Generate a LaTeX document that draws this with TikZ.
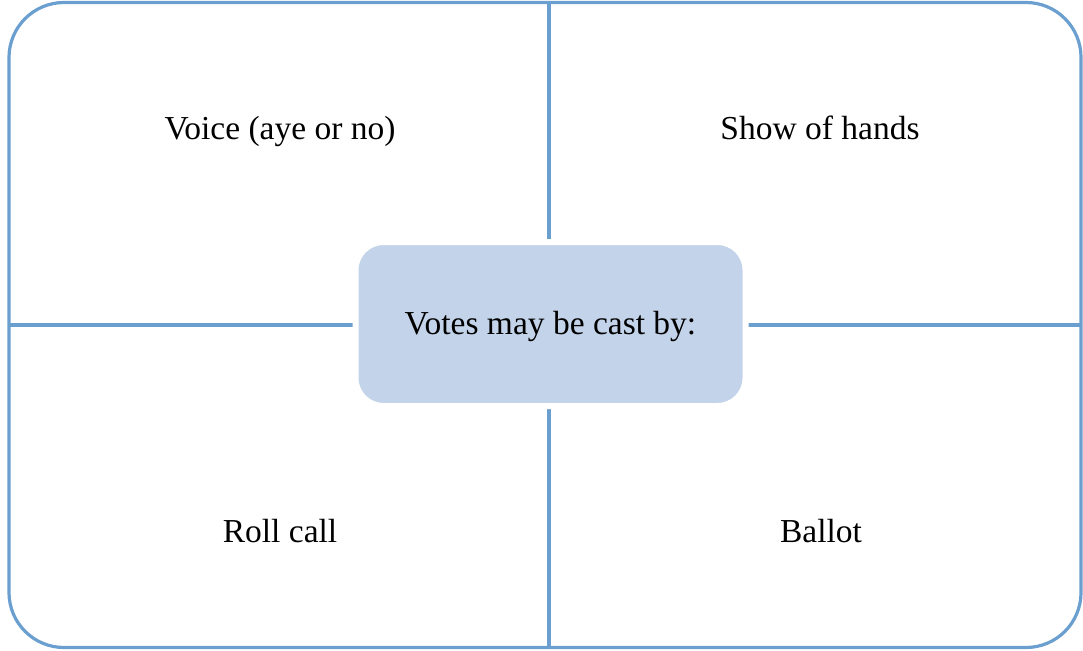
\documentclass[tikz,border=0pt]{standalone}
\usepackage{fontspec}
\setmainfont{Liberation Serif}
\definecolor{edge}{HTML}{6A9FD0}
\definecolor{centerfill}{HTML}{C3D4EA}
\tikzset{
  frame/.style={draw=edge, line width=3.2pt},
  lbl/.style={font=\fontsize{33.5}{38}\selectfont, text=black, inner sep=0pt},
  hub/.style={fill=centerfill, draw=white, line width=6pt, rounded corners=28pt,
    minimum width=390pt, minimum height=164pt, font=\fontsize{33.5}{38}\selectfont, inner sep=0pt,
    text depth=0pt, yshift=0pt}
}
\begin{document}
\begin{tikzpicture}[x=1pt,y=-1pt]
\useasboundingbox (0,0) rectangle (1083,650);
\coordinate (tl) at (9,2.5);
\coordinate (br) at (1081,647.5);
\coordinate (top) at (549,2.5);
\coordinate (bottom) at (549,647.5);
\coordinate (left) at (9,325);
\coordinate (right) at (1081,325);
\draw[frame, rounded corners=55pt] (tl) rectangle (br);
\draw[frame] (top) -- (bottom);
\draw[frame] (left) -- (right);
\node[lbl] (voice) at (280,131) {Voice (aye or no)};
\node[lbl] (hands) at (820,128) {Show of hands};
\node[lbl] (roll) at (280,531) {Roll call};
\node[lbl] (ballot) at (821,531) {Ballot};
\node[hub] (center) at (550.5,324) {};
\node[lbl] (centertext) at (550.5,326) {Votes may be cast by:};
\end{tikzpicture}
\end{document}
